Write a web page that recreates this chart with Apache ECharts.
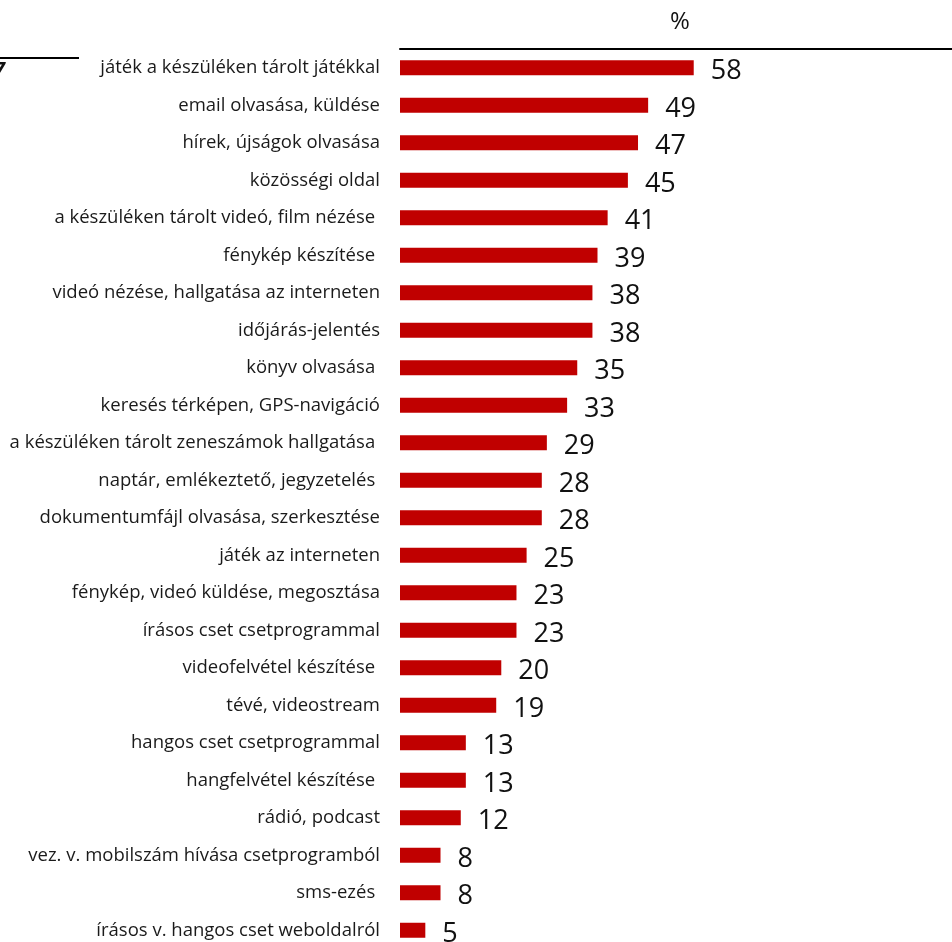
<!DOCTYPE html>
<html lang="hu">
<head>
    <meta charset="UTF-8">
    <title>Tevékenységek</title>
    <script src="https://cdn.jsdelivr.net/npm/echarts@6.0.0/dist/echarts.min.js"></script>
    <style>
        html, body { margin: 0; padding: 0; background: #fff; }
        #chart { width: 952px; height: 942px; }
    </style>
</head>
<body>
<div id="chart"></div>
<script>
    var categories = [
        'játék a készüléken tárolt játékkal',
        'email olvasása, küldése',
        'hírek, újságok olvasása',
        'közösségi oldal',
        'a készüléken tárolt videó, film nézése ',
        'fénykép készítése ',
        'videó nézése, hallgatása az interneten',
        'időjárás-jelentés',
        'könyv olvasása ',
        'keresés térképen, GPS-navigáció',
        'a készüléken tárolt zeneszámok hallgatása ',
        'naptár, emlékeztető, jegyzetelés ',
        'dokumentumfájl olvasása, szerkesztése',
        'játék az interneten',
        'fénykép, videó küldése, megosztása',
        'írásos cset csetprogrammal',
        'videofelvétel készítése ',
        'tévé, videostream',
        'hangos cset csetprogrammal',
        'hangfelvétel készítése ',
        'rádió, podcast',
        'vez. v. mobilszám hívása csetprogramból',
        'sms-ezés ',
        'írásos v. hangos cset weboldalról'
    ];
    var values = [58, 49, 47, 45, 41, 39, 38, 38, 35, 33, 29, 28, 28, 25, 23, 23, 20, 19, 13, 13, 12, 8, 8, 5];
    var unitLabel = '%';

    var chart = echarts.init(document.getElementById('chart'));
    chart.setOption({
        animation: false,
        grid: {left: 400, top: 49, width: 552, height: 900, containLabel: false, outerBoundsMode: 'none'},
        xAxis: {
            type: 'value',
            position: 'top',
            min: 0,
            max: 109,
            axisLine: {show: true, lineStyle: {color: '#000', width: 2}},
            axisTick: {show: false},
            axisLabel: {show: false},
            splitLine: {show: false}
        },
        yAxis: {
            type: 'category',
            inverse: true,
            data: categories,
            axisLine: {show: false},
            axisTick: {show: false},
            axisLabel: {
                margin: 20,
                fontFamily: 'Open Sans',
                fontSize: 18.5,
                color: '#1a1a1a',
                padding: [2, 0, 0, 0]
            }
        },
        series: [{
            type: 'bar',
            data: values,
            barWidth: 15,
            itemStyle: {color: '#C00000'},
            label: {
                show: true,
                position: 'right',
                distance: 17,
                fontFamily: 'Open Sans',
                fontSize: 27,
                color: '#111',
                offset: [0, 4]
            }
        }],
        graphic: [
            {type: 'text', left: 670, top: 10, style: {text: unitLabel, fontFamily: 'Open Sans', fontSize: 24, fill: '#111'}},
            {type: 'line', shape: {x1: 0, y1: 58, x2: 79, y2: 58}, style: {stroke: '#000', lineWidth: 2}},
            {type: 'text', left: -6, top: 60, style: {text: '7', fontFamily: 'Open Sans', fontSize: 20, fontWeight: 'bold', fontStyle: 'italic', fill: '#111'}}
        ]
    });
</script>
</body>
</html>
